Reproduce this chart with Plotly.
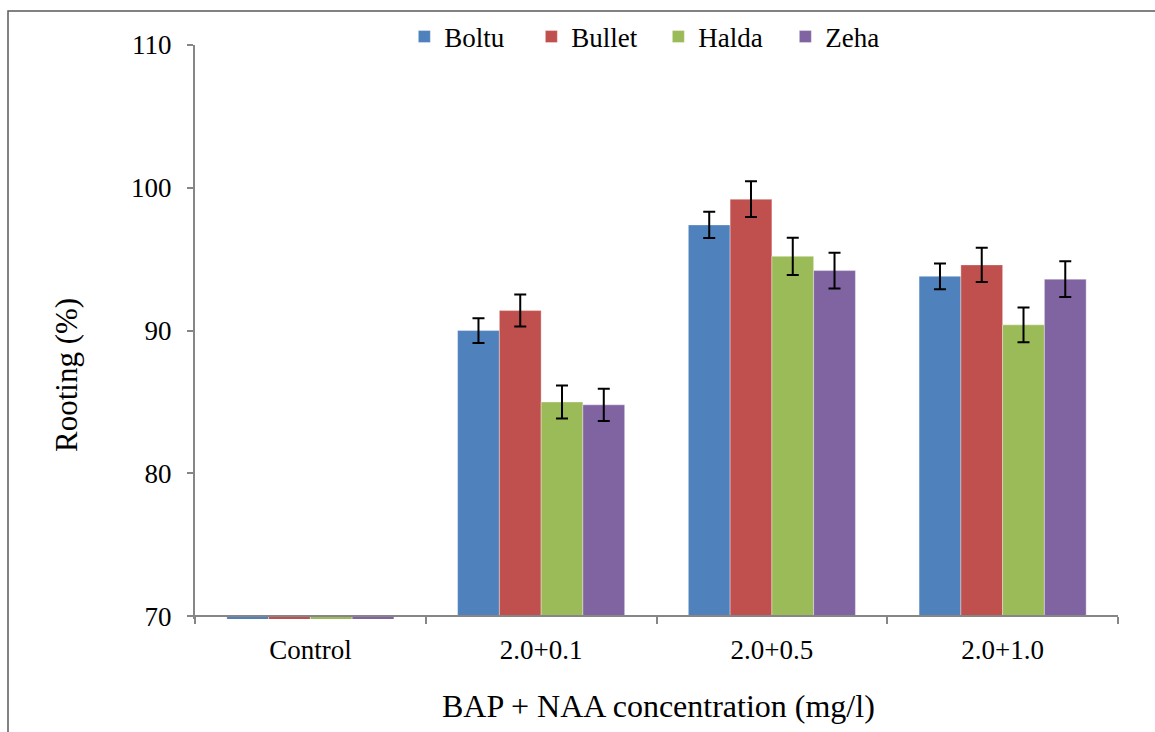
import plotly.graph_objects as go

categories = ["Control", "2.0+0.1", "2.0+0.5", "2.0+1.0"]
series_names = ["Boltu", "Bullet", "Halda", "Zeha"]
boltu = [0, 90.0, 97.4, 93.8]
bullet = [0, 91.4, 99.2, 94.6]
halda = [0, 85.0, 95.2, 90.4]
zeha = [0, 84.8, 94.2, 93.6]
boltu_err = [None, 0.87, 0.92, 0.90]
bullet_err = [None, 1.12, 1.25, 1.20]
halda_err = [None, 1.15, 1.30, 1.22]
zeha_err = [None, 1.13, 1.25, 1.25]
y_ticks = [70, 80, 90, 100, 110]

colors = ["#4F81BD", "#C0504D", "#9BBB59", "#8064A2"]
values = [boltu, bullet, halda, zeha]
errors = [boltu_err, bullet_err, halda_err, zeha_err]

AXIS_MIN = 70
Y_LOW = 69.8
Y_HIGH = 110
FONT = "Liberation Serif"

fig = go.Figure()
for name, vals, errs, col in zip(series_names, values, errors, colors):
    fig.add_trace(go.Bar(
        name=name,
        x=categories,
        y=[v - AXIS_MIN for v in vals],
        base=AXIS_MIN,
        marker=dict(color=col, line=dict(color="rgba(255,255,255,0.35)", width=1)),
        error_y=dict(type="data", array=errs, visible=True,
                     color="black", thickness=2, width=6),
        hoverinfo="skip",
    ))

L, R, T, B = 195, 37, 45, 113
W, H = 1155, 732
pw, ph = W - L - R, H - T - B

def px_x(p):
    return (p - L) / pw

def px_y(p):
    return (H - B - p) / ph

fig.update_layout(
    width=W, height=H,
    margin=dict(l=L, r=R, t=T, b=B, pad=0),
    paper_bgcolor="white", plot_bgcolor="white",
    barmode="group", bargap=0.276, bargroupgap=0,
    font=dict(family=FONT, color="black", size=27),
    showlegend=True,
    legend=dict(orientation="h", x=0.502, xanchor="center", y=px_y(37), yanchor="middle",
                font=dict(family=FONT, size=27, color="black"),
                bgcolor="rgba(0,0,0,0)", entrywidth=82, entrywidthmode="pixels"),
    xaxis=dict(
        type="category",
        anchor="free",
        position=(AXIS_MIN - Y_LOW) / (Y_HIGH - Y_LOW),
        showline=True, linecolor="#868686", linewidth=2,
        ticks="outside", tickson="boundaries", ticklen=7, tickwidth=2, tickcolor="#868686",
        tickfont=dict(family=FONT, size=27, color="black"),
        ticklabelstandoff=9,
        showgrid=False, zeroline=False,
    ),
    yaxis=dict(
        range=[Y_LOW, Y_HIGH],
        tickvals=y_ticks,
        showline=True, linecolor="#868686", linewidth=2,
        ticks="outside", ticklen=6, tickwidth=2, tickcolor="#868686",
        tickfont=dict(family=FONT, size=27, color="black"),
        ticklabelstandoff=10,
        showgrid=False, zeroline=False,
    ),
    annotations=[
        dict(text="Rooting (%)", textangle=-90, showarrow=False,
             xref="paper", yref="paper", x=px_x(67), y=px_y(375),
             xanchor="center", yanchor="middle",
             font=dict(family=FONT, size=31, color="black")),
        dict(text="BAP + NAA concentration (mg/l)", showarrow=False,
             xref="paper", yref="paper", x=px_x(658), y=px_y(706),
             xanchor="center", yanchor="middle",
             font=dict(family=FONT, size=32, color="black")),
    ],
    shapes=[
        dict(type="rect", xref="paper", yref="paper",
             x0=px_x(8), x1=px_x(1170), y0=px_y(750), y1=px_y(11),
             line=dict(color="#5a5a5a", width=1.5), fillcolor="rgba(0,0,0,0)"),
    ],
)

fig.write_html("out.html",
               config={"displayModeBar": False},
               post_script="document.body.style.margin='0';document.body.style.overflow='hidden';")
